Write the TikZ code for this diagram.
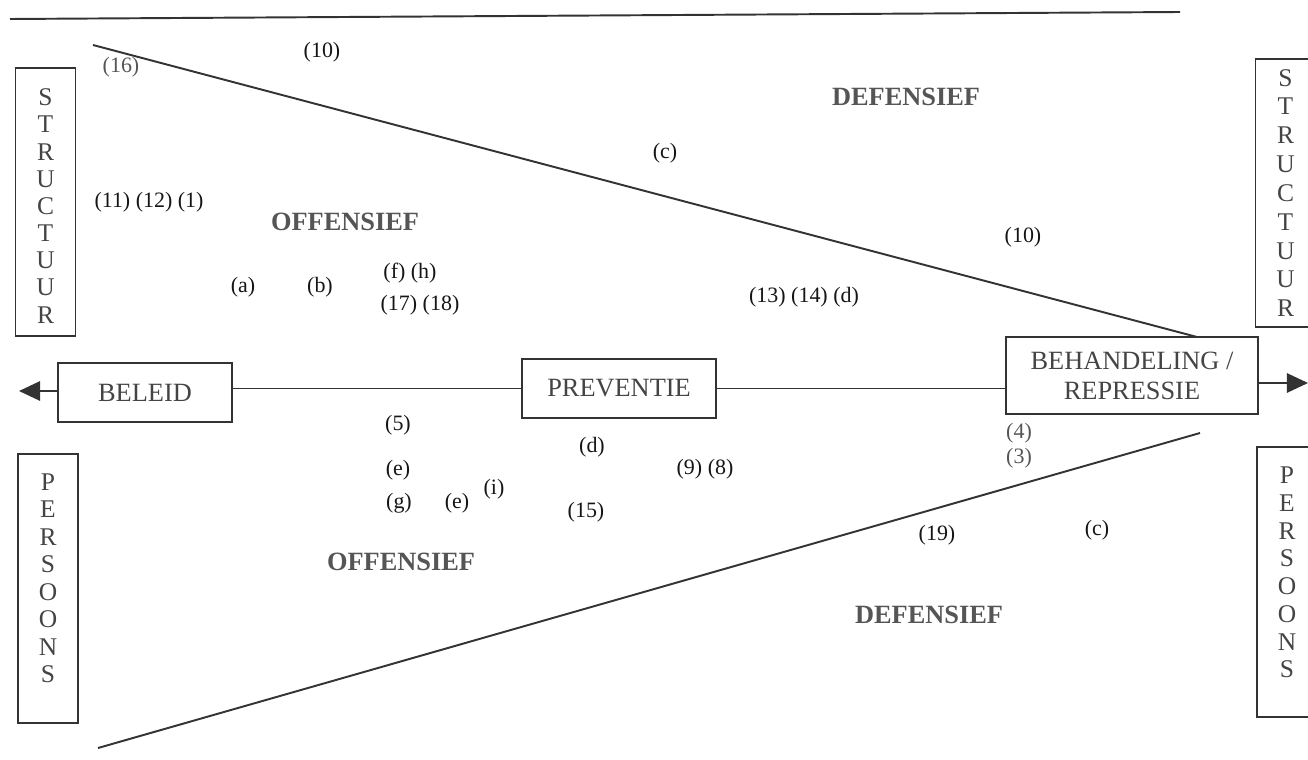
\documentclass[tikz,border=0pt]{standalone}
\usepackage{fontspec}
\setmainfont{Liberation Serif}
\usetikzlibrary{arrows.meta}
\definecolor{ink}{HTML}{333333}
\definecolor{boxtext}{HTML}{444444}
\definecolor{numtext}{HTML}{151515}
\definecolor{boldtext}{HTML}{555555}
\tikzset{
  mainbox/.style={draw=ink, line width=1.1pt, inner sep=0pt, text=boxtext,
    font={\fontsize{15}{17}\selectfont}, align=center},
  vbox/.style={draw=ink, line width=1.1pt, inner sep=0pt, minimum width=1.2cm},
  vtext/.style={text=boxtext, inner sep=0pt, align=center},
  num/.style={text=numtext, inner sep=1pt, font={\fontsize{12.5}{15}\selectfont}},
  numgray/.style={num, text=boldtext},
  zone/.style={text=boldtext, inner sep=1pt, font={\fontsize{15}{17}\selectfont\bfseries}},
  wedge/.style={draw=ink, line width=1.1pt},
  flow/.style={draw=ink, line width=1.1pt},
  flowarrow/.style={flow, -{Triangle[length=12pt,width=11pt]}}
}
\begin{document}
\begin{tikzpicture}[x=0.02cm, y=-0.02cm]
\useasboundingbox (0,0) rectangle (1308,760);

% top rule
\coordinate (r1) at (10,19);
\coordinate (r2) at (1180,12);
\draw[wedge] (r1) -- (r2);

% main boxes
\node[mainbox, minimum width=3.48cm, minimum height=1.18cm] (beleid) at (145,392.5) {BELEID};
\node[mainbox, minimum width=3.88cm, minimum height=1.18cm] (prev) at (619,388.5) {PREVENTIE};
\node[mainbox, minimum width=5.04cm, minimum height=1.54cm] (behand) at (1132,375.5) {BEHANDELING /\\REPRESSIE};

% flow line
\coordinate (ltip) at (19,391);
\coordinate (rtip) at (1308,383);
\draw[flowarrow] (beleid.west |- ltip) -- (ltip);
\draw[flow] (prev.west) -- (prev.west -| beleid.east);
\draw[flow] (prev.east) -- (prev.east -| behand.west);
\draw[flowarrow] (behand.east |- rtip) -- (rtip);

% wedge lines
\coordinate (u1) at (93,45);
\coordinate (u2) at (1197,337);
\coordinate (l1) at (98,748);
\coordinate (l2) at (1200,433);
\draw[wedge] (u1) -- (u2);
\draw[wedge] (l1) -- (l2);

% vertical boxes
\node[vbox, minimum height=5.36cm] (lstruct) at (45.5,202) {};
\node[vtext, font={\fontsize{14.5}{15.45}\selectfont}] (lstructt) at (45.5,206)
  {S\\T\\R\\U\\C\\T\\U\\U\\R};
\node[vbox, minimum height=5.36cm] (rstruct) at (1285.5,193) {};
\node[vtext, font={\fontsize{14.5}{16.4}\selectfont}] (rstructt) at (1285.5,193)
  {S\\T\\R\\U\\C\\T\\U\\U\\R};
\node[vbox, minimum height=5.38cm] (lpers) at (48,588.5) {};
\node[vtext, font={\fontsize{14.5}{15.65}\selectfont}] (lperst) at (48,578.5)
  {P\\E\\R\\S\\O\\O\\N\\S};
\node[vbox, minimum height=5.4cm] (rpers) at (1287,582) {};
\node[vtext, font={\fontsize{14.5}{15.8}\selectfont}] (rperst) at (1287,572.5)
  {P\\E\\R\\S\\O\\O\\N\\S};

% zone labels
\node[zone] (def1) at (906,97) {DEFENSIEF};
\node[zone] (off1) at (345,222) {OFFENSIEF};
\node[zone] (off2) at (401,562) {OFFENSIEF};
\node[zone] (def2) at (929,615) {DEFENSIEF};

% reference numbers and letters
\node[numgray] (n16) at (121,67) {(16)};
\node[num] (n10a) at (322,52) {(10)};
\node[num] (nc1) at (665,153) {(c)};
\node[num] (n11) at (149,202) {(11) (12) (1)};
\node[num] (n10b) at (1023,237) {(10)};
\node[num] (na) at (243,287) {(a)};
\node[num] (nb) at (320,287) {(b)};
\node[num] (nfh) at (410,273) {(f) (h)};
\node[num] (n1718) at (420,305) {(17) (18)};
\node[num] (n1314) at (804,297) {(13) (14) (d)};
\node[num] (n5) at (398,425) {(5)};
\node[num] (ne1) at (398,470) {(e)};
\node[num] (ng) at (399,503) {(g)};
\node[num] (ne2) at (457,503) {(e)};
\node[num] (ni) at (494,489) {(i)};
\node[num] (nd) at (592,447) {(d)};
\node[num] (n98) at (705,469) {(9) (8)};
\node[num] (n15) at (586,512) {(15)};
\node[numgray] (n4) at (1019,433) {(4)};
\node[numgray] (n3) at (1019,458) {(3)};
\node[num] (n19) at (937,535) {(19)};
\node[num] (nc2) at (1097,530) {(c)};
\end{tikzpicture}
\end{document}
